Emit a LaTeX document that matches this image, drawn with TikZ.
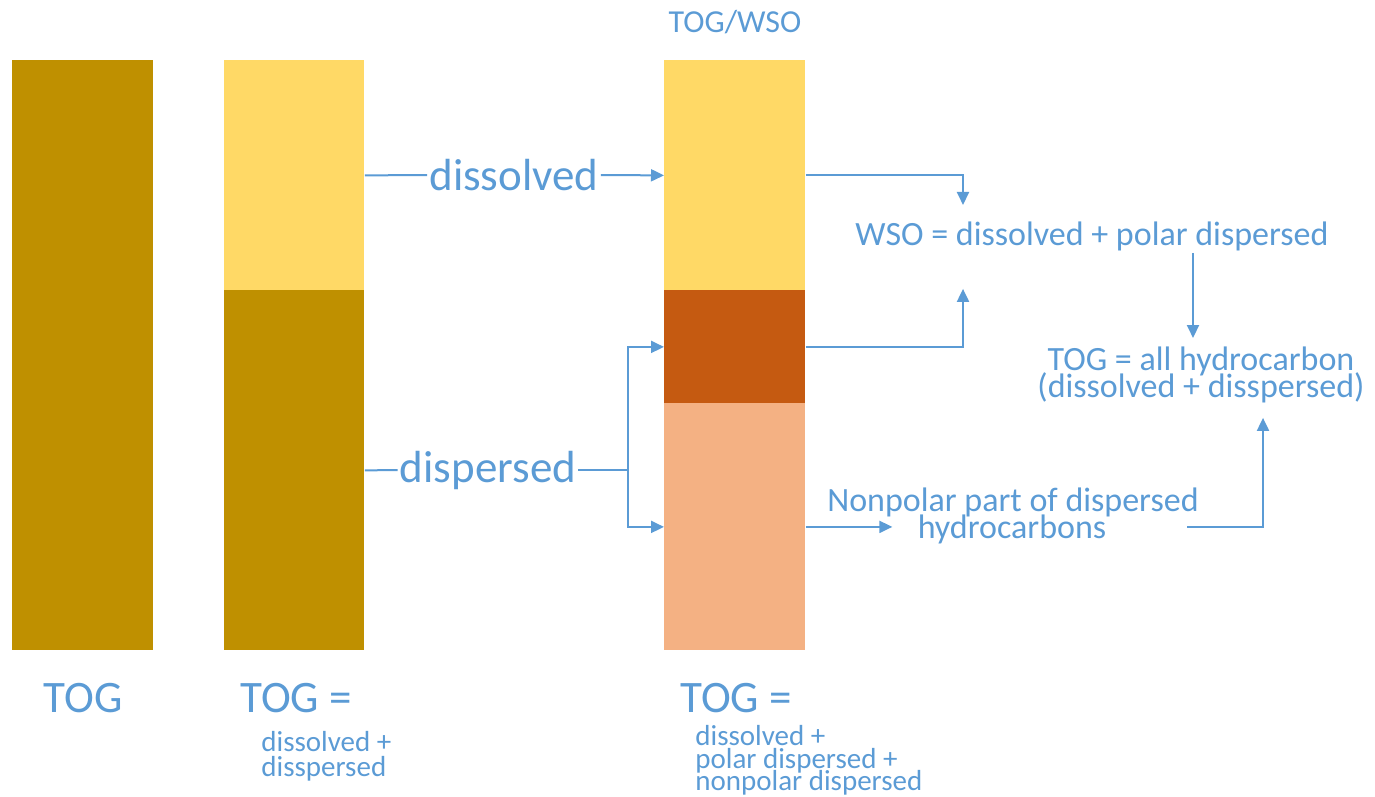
\documentclass[tikz,border=0pt]{standalone}
\usepackage{fontspec}
\setmainfont{Carlito}
\usepackage{xcolor}
\usetikzlibrary{arrows.meta,positioning}
\definecolor{myblue}{HTML}{5B9BD5}
\definecolor{mygold}{HTML}{BF9000}
\definecolor{myyellow}{HTML}{FFD966}
\definecolor{myrust}{HTML}{C55A11}
\definecolor{mypeach}{HTML}{F4B183}
\newcommand{\tightfont}[2]{\fontsize{#1}{#2}\selectfont\lineskiplimit=-\maxdimen}

\begin{document}
\begin{tikzpicture}[x=0.5pt,y=-0.5pt,
every node/.style={myblue,inner sep=1pt},
bar/.style={anchor=north west,inner sep=0pt,minimum width=70.5pt},
link/.style={myblue,line width=1pt},
arr/.style={link,-{Triangle[length=6.5pt,width=6pt]}},
bigtext/.style={font=\tightfont{22.5}{27}},
midtext/.style={font=\tightfont{17}{13.5}},
smalltext/.style={font=\tightfont{14.5}{12.5}}]
\useasboundingbox (0,0) rectangle (1375,797);
\node[bar,fill=mygold,minimum height=295pt] (bar1) at (12,60) {};
\node[bar,fill=myyellow,minimum width=70pt,minimum height=115pt] (bar2a) at (224,60) {};
\node[bar,fill=mygold,minimum width=70pt,minimum height=180pt] (bar2b) at (224,290) {};
\node[bar,fill=myyellow,minimum height=115pt] (bar3a) at (664,60) {};
\node[bar,fill=myrust,minimum height=56.5pt] (bar3b) at (664,290) {};
\node[bar,fill=mypeach,minimum height=123.5pt] (bar3c) at (664,403) {};
\node[anchor=base,font=\tightfont{16}{19}] (title) at (735,33) {TOG/WSO};
\node[bigtext] (dissolved) at (514,175) {dissolved};
\node[bigtext] (dispersed) at (488,470) {dispersed};
\coordinate (split) at (628,470);
\draw[link] (bar2a.east) -- (dissolved.west);
\draw[arr] (dissolved.east) -- (bar3a.west);
\draw[link] (bar2b.east) -- (dispersed.west);
\draw[link] (dispersed.east) -- (split);
\draw[arr] (split) |- (bar3b.west);
\draw[arr] (split) |- (bar3c.west);
\node[midtext,anchor=base] (wso) at (1092,245) {WSO = dissolved + polar dispersed};
\node[midtext,anchor=north,align=center] (togall) at (1201,344) {TOG = all hydrocarbon\\(dissolved + disspersed)};
\node[midtext,anchor=base,inner sep=0pt] (nonpolar) at (1013,511) {Nonpolar part of dispersed};
\node[midtext,anchor=base,inner xsep=12.5pt,inner ysep=0pt] (hydro) at (1012,538) {hydrocarbons};
\draw[arr,shorten >=7pt] (bar3a.east) -| (wso.north -| 963,0);
\draw[arr,shorten >=18pt] (bar3b.east) -| (wso.south -| 963,0);
\draw[arr,shorten >=3pt] (wso.south -| 1193,0) -- (togall.north -| 1193,0);
\draw[arr] (bar3c.east) -- (bar3c.east -| hydro.west);
\draw[arr,shorten >=6.5pt] ([xshift=-6pt]nonpolar.east |- bar3c.east) -| (togall.south -| 1263,0);
\node[bigtext,anchor=base] (tog1) at (83,712) {TOG};
\node[bigtext,anchor=base west,inner sep=0pt] (tog2) at (240,712) {TOG =};
\node[smalltext,anchor=north west,align=left,inner sep=0pt] (sum2) at (261,731) {dissolved +\\disspersed};
\node[bigtext,anchor=base west,inner sep=0pt] (tog3) at (680,712) {TOG =};
\node[smalltext,anchor=north west,align=left,inner sep=0pt,font=\tightfont{14.5}{11.25}] (sum3) at (695,725) {dissolved +\\polar dispersed +\\nonpolar dispersed};
\end{tikzpicture}
\end{document}
